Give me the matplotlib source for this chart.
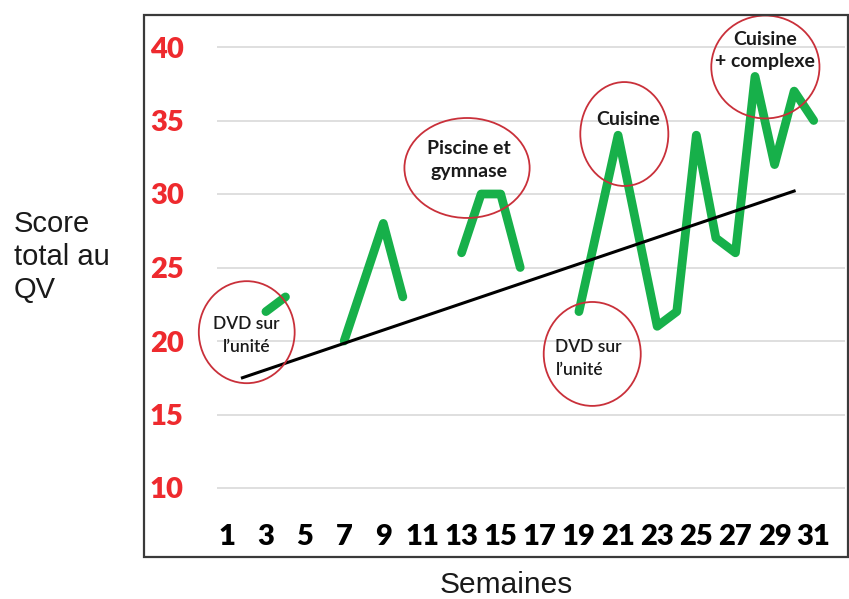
import matplotlib
matplotlib.use("Agg")
import matplotlib.pyplot as plt
from matplotlib.patches import Ellipse, Rectangle

# ---- data ----
weeks = [3, 4, 7, 9, 10, 13, 14, 15, 16, 19, 21, 23, 24, 25, 26, 27, 28, 29, 30, 31]
scores = [22, 23, 20, 28, 23, 26, 30, 30, 25, 22, 34, 21, 22, 34, 27, 26, 38, 32, 37, 35]
segments = [1, 1, 2, 2, 2, 3, 3, 3, 3, 4, 4, 4, 4, 4, 4, 4, 4, 4, 4, 4]
trend_weeks = [1.8, 30]
trend_scores = [17.5, 30.2]
x_ticks = list(range(1, 32, 2))
y_ticks = [10, 15, 20, 25, 30, 35, 40]
notes = ["DVD sur\nl’unité", "Piscine et\ngymnase", "Cuisine", "DVD sur\nl’unité", "Cuisine\n+ complexe"]
y_label = "Score\ntotal au\nQV"
x_label = "Semaines"

# ---- layout ----
W, H = 849, 599
fig = plt.figure(figsize=(W / 100, H / 100), dpi=100)

def px(x0, y0, x1, y1):
    return [x0 / W, 1 - y1 / H, (x1 - x0) / W, (y1 - y0) / H]

ax_top, ax_bot = 20, 505
ax = fig.add_axes(px(217, ax_top, 845, ax_bot))
ppu = 14.7
ax.set_ylim(10 + (488 - ax_bot) / ppu, 10 + (488 - ax_top) / ppu)
ax.set_xlim(0.5, 32.6)

green = "#17b04a"
for s in sorted(set(segments)):
    xs = [w for w, g in zip(weeks, segments) if g == s]
    ys = [v for v, g in zip(scores, segments) if g == s]
    ax.plot(xs, ys, color=green, lw=6.3, solid_capstyle="round",
            solid_joinstyle="round", zorder=3)

ax.plot(trend_weeks, trend_scores, color="black", lw=2.2, zorder=4)

for sp in ax.spines.values():
    sp.set_visible(False)
ax.set_yticks(y_ticks)
ax.set_yticklabels([str(v) for v in y_ticks], color="#ee2a2e",
                   fontsize=21, fontweight="heavy", fontfamily="Lato")
ax.set_xticks(x_ticks)
ax.set_xticklabels([str(v) for v in x_ticks], color="black",
                   fontsize=21, fontweight="heavy", fontfamily="Lato")
ax.tick_params(axis="y", length=0, pad=24)
ax.tick_params(axis="x", length=0, pad=14)
ax.grid(axis="y", color="#d9d9d9", lw=1.2)
ax.set_axisbelow(True)

# annotation circles (center week, center score, width, height)
circ = [(2.02, 20.6, 4.9, 6.94), (13.28, 31.77, 6.4, 6.8), (21.32, 34.08, 4.5, 7.07),
        (19.68, 19.12, 4.96, 7.07), (28.53, 38.64, 5.53, 7.0)]
text_pos = [(2.02, 20.4, "center"), (13.4, 32.3, "center"), (21.5, 35.05, "center"),
            (17.8, 18.8, "left"), (28.53, 39.75, "center")]
text_size = [12.5, 14, 14, 12.5, 14]
text_weight = ["semibold", "bold", "bold", "semibold", "bold"]
text_ls = [1.55, 1.4, 1.4, 1.55, 1.35]
for (cx, cy, cw, ch), (tx, ty, ha), t, fs, fw, ls in zip(circ, text_pos, notes,
                                                         text_size, text_weight, text_ls):
    ax.add_patch(Ellipse((cx, cy), cw, ch, fill=False, edgecolor="#c9303a",
                         lw=1.3, zorder=5, clip_on=False))
    ax.text(tx, ty, t, ha=ha, va="center", fontsize=fs, fontweight=fw,
            fontfamily="Lato", color="#1a1a1a", linespacing=ls, zorder=6,
            multialignment=ha)

# frame
fig.patches.append(Rectangle((144 / W, 1 - 557 / H), (848 - 144) / W, (557 - 15) / H,
                             transform=fig.transFigure, fill=False,
                             edgecolor="#3a3a3a", lw=1.6))

sans = ["Liberation Sans", "Arial", "DejaVu Sans"]
fig.text(14 / W, 1 - 257 / H, y_label, ha="left", va="center", fontsize=21,
         fontfamily=sans, linespacing=1.22, color="#1a1a1a")
fig.text(506 / W, 1 - 585 / H, x_label, ha="center", va="center", fontsize=21.5,
         fontfamily=sans, color="#1a1a1a")

fig.savefig("out.png", dpi=100)
